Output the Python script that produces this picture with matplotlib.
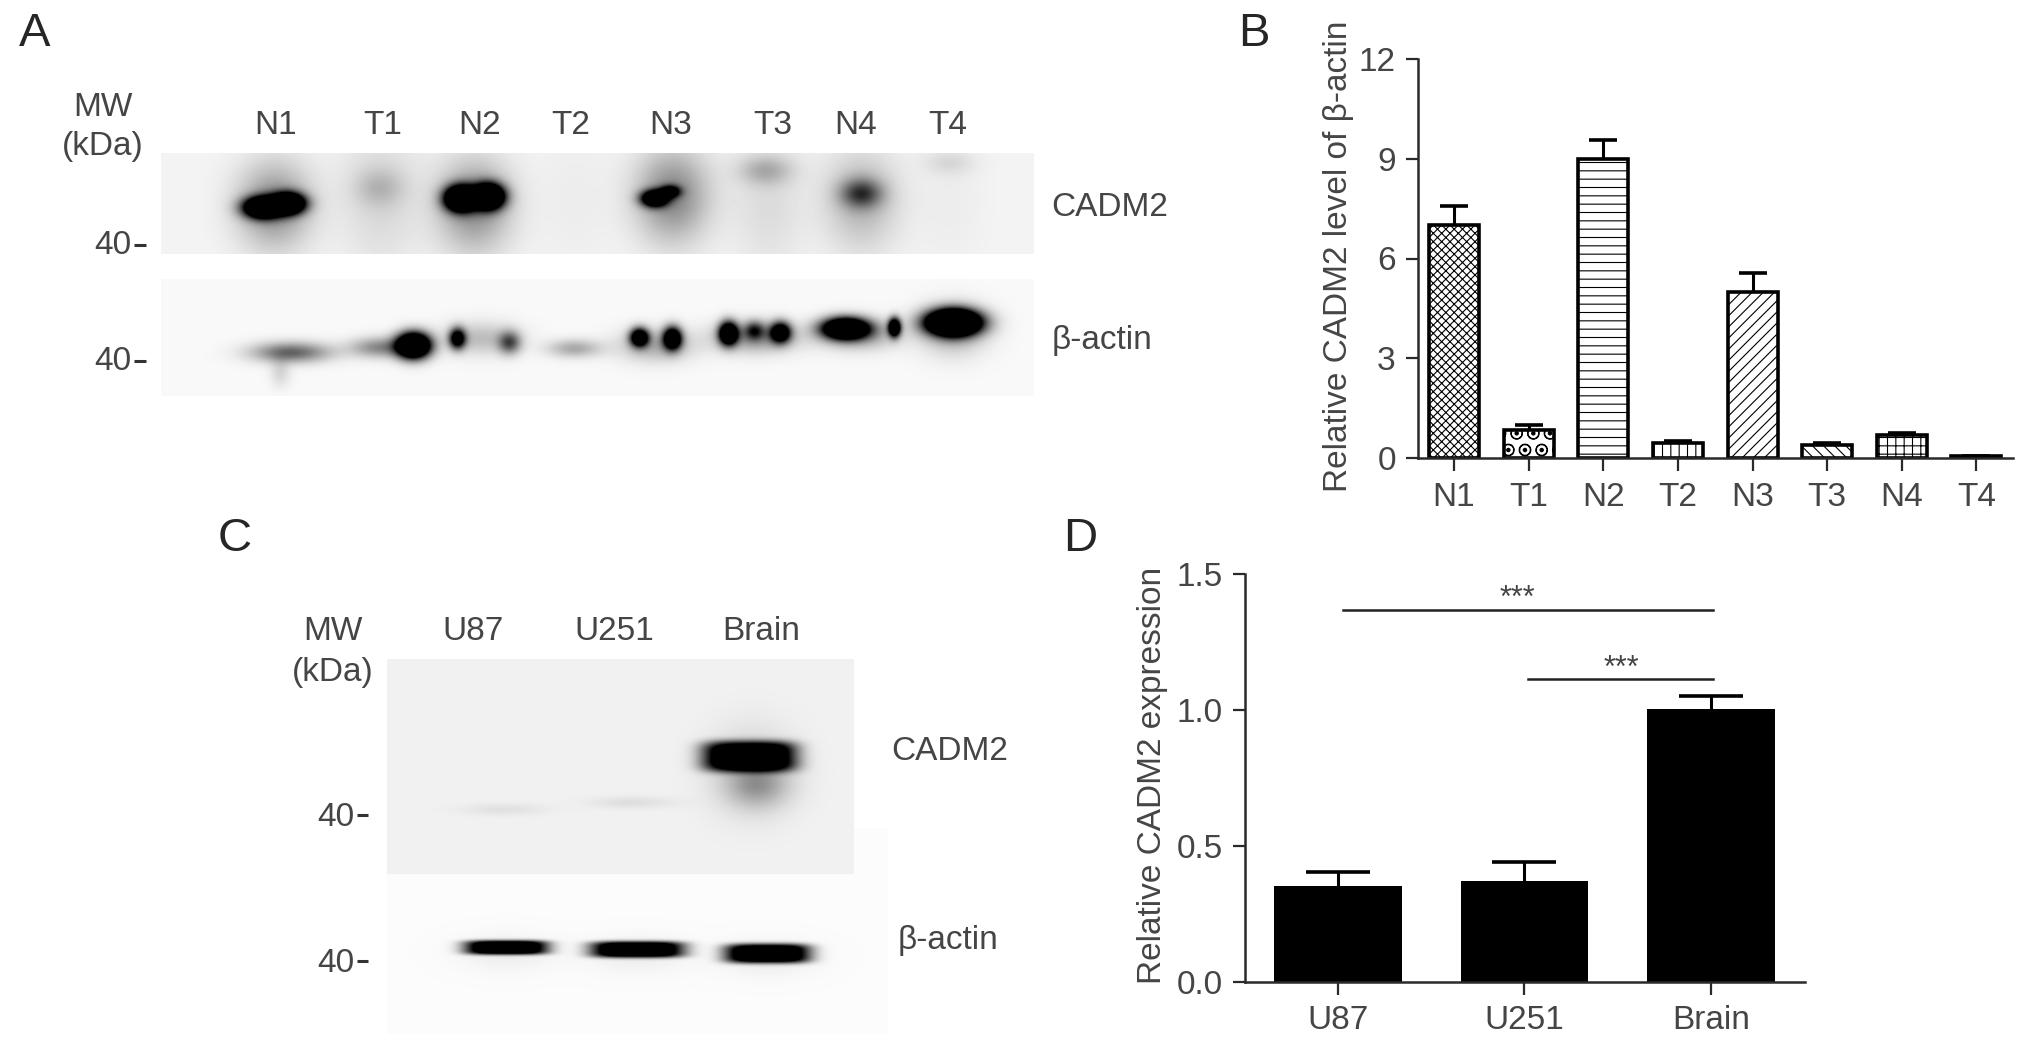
"""Western blots and CADM2 bar charts (panels A-D)."""

import matplotlib
matplotlib.use("Agg")
import matplotlib.pyplot as plt
import numpy as np

W, H = 2032, 1054
TEXT = "#454545"
FS = 24

plt.rcParams["font.family"] = ["Liberation Sans", "DejaVu Sans"]
plt.rcParams["hatch.linewidth"] = 0.8

# Panel B
tissue_labels = ["N1", "T1", "N2", "T2", "N3", "T3", "N4", "T4"]
tissue_values = [7.0, 0.85, 9.0, 0.45, 5.0, 0.4, 0.7, 0.05]
tissue_err = [0.58, 0.15, 0.56, 0.07, 0.57, 0.05, 0.05, 0.02]
tissue_hatch = ["xxxx", "O.", "--", "||", "///", "\\\\\\", "++", ""]
tissue_ticks = [0, 3, 6, 9, 12]

# Panel D
cell_labels = ["U87", "U251", "Brain"]
cell_values = [0.351, 0.37, 1.003]
cell_err = [0.05, 0.068, 0.045]
cell_ticks = [0.0, 0.5, 1.0, 1.5]

# Blot bands in figure pixels: centre x, centre y, sigma x, sigma y, density
a_top_bands = [
    (262, 207, 18, 10, 2.2), (288, 203, 16, 10, 2.2), (274, 205, 36, 42, 0.42),
    (379, 187, 24, 18, 0.16), (380, 195, 40, 70, 0.12), (460, 198, 15, 12, 2.4),
    (488, 196, 15, 12, 2.4), (474, 205, 36, 45, 0.42), (654, 198, 13, 8, 1.7),
    (670, 191, 10, 6, 1.0), (672, 195, 36, 45, 0.45), (765, 170, 26, 14, 0.24),
    (768, 200, 36, 70, 0.1), (861, 193, 20, 14, 0.6), (861, 200, 36, 48, 0.26),
    (949, 162, 24, 12, 0.1), (575, 200, 38, 70, 0.03), (949, 200, 36, 70, 0.03),
]
a_bottom_bands = [
    (291, 352, 38, 10, 0.6), (280, 372, 10, 14, 0.14), (379, 347, 28, 10, 0.45),
    (413, 345, 16, 12, 2.6), (457, 338, 8, 10, 1.3), (509, 342, 11, 11, 0.65),
    (480, 338, 36, 16, 0.24), (574, 348, 26, 9, 0.32), (639, 337, 9, 9, 1.6),
    (672, 338, 9, 11, 1.7), (655, 345, 36, 16, 0.3), (728, 333, 9, 11, 1.9),
    (754, 330, 10, 9, 0.7), (780, 332, 10, 10, 1.5), (755, 337, 40, 15, 0.4),
    (845, 328, 22, 10, 2.3), (894, 327, 6, 9, 1.8), (858, 334, 38, 15, 0.35),
    (953, 322, 25, 12, 3.2), (953, 330, 32, 24, 0.3),
]
c_top_bands = [
    (757, 784, 30, 22, 0.28), (752, 770, 42, 42, 0.16),
    (503, 809, 42, 6, 0.07), (631, 802, 42, 6, 0.08),
]
c_bottom_bands = [
    (506, 952, 46, 18, 0.06), (637, 954, 50, 18, 0.06), (767, 958, 46, 18, 0.06),
]
# Saturated rounded bands: same columns, flatter profile
c_top_cores = [(749, 756, 46, 15, 1.5)]
c_bottom_cores = [
    (506, 947, 41, 7, 1.5), (637, 949, 46, 8, 1.5), (767, 953, 42, 9.5, 1.5),
]


def pixel_axes(fig, left, top, right, bottom):
    return fig.add_axes([left / W, 1 - bottom / H, (right - left) / W, (bottom - top) / H])


def draw_blot(ax, box, bands, bg, cores=()):
    """Paint a blot as an image so that the bands saturate to black."""
    left, top, right, bottom = box
    xx, yy = np.meshgrid(np.arange(left, right), np.arange(top, bottom))
    density = np.zeros_like(xx, dtype=float)
    for cx, cy, sx, sy, amp in bands:
        density += amp * np.exp(-((xx - cx) / sx) ** 2 - ((yy - cy) / sy) ** 2)
    for cx, cy, sx, sy, amp in cores:
        density += amp * np.exp(-((xx - cx) / sx) ** 4 - ((yy - cy) / sy) ** 4)
    img = np.clip(bg * (1 - density), 0, 1)
    ax.imshow(img, cmap="gray", vmin=0, vmax=1, extent=(left, right, bottom, top),
              interpolation="bilinear", aspect="auto", zorder=1)


def style_bar_axes(ax):
    for side in ["top", "right"]:
        ax.spines[side].set_visible(False)
    for side in ["left", "bottom"]:
        ax.spines[side].set_linewidth(1.8)
        ax.spines[side].set_color("#2a2a2a")
    ax.tick_params(length=9, width=1.6, color="#2a2a2a", labelsize=FS,
                   labelcolor=TEXT, pad=8)
    ax.tick_params(axis="y", pad=7)
    ax.patch.set_alpha(0)


fig = plt.figure(figsize=(W / 100, H / 100), dpi=100, facecolor="white")

# Full-figure canvas in pixel coordinates for the blots and their labels
canvas = fig.add_axes([0, 0, 1, 1])
canvas.set_xlim(0, W)
canvas.set_ylim(H, 0)
canvas.axis("off")

draw_blot(canvas, (161, 153, 1034, 254), a_top_bands, 0.955)
draw_blot(canvas, (161, 279, 1034, 396), a_bottom_bands, 0.975)
draw_blot(canvas, (387, 828, 888, 1034), c_bottom_bands, 0.985, c_bottom_cores)
draw_blot(canvas, (387, 659, 854, 874), c_top_bands, 0.945, c_top_cores)
canvas.set_xlim(0, W)
canvas.set_ylim(H, 0)


def label(x, y, s, size=FS, ha="center", color=TEXT):
    canvas.text(x, y, s, fontsize=size, ha=ha, va="center", color=color, zorder=3)


for x, y, s in [(35, 34, "A"), (1254, 34, "B"), (235, 539, "C"), (1080, 539, "D")]:
    label(x, y, s, size=34, color="#262626")

lane_x_a = [276, 383, 480, 571, 671, 773, 856, 948]
for x, s in zip(lane_x_a, tissue_labels):
    label(x, 125, s)
label(103, 107, "MW")
label(103, 146, "(kDa)")
label(131, 245, "40", ha="right")
label(131, 361, "40", ha="right")
label(1110, 208, "CADM2")
label(1102, 340, "β-actin")

lane_x_c = [473, 614, 761]
for x, s in zip(lane_x_c, cell_labels):
    label(x, 632, s)
label(333, 632, "MW")
label(333, 673, "(kDa)")
label(354, 817, "40", ha="right")
label(354, 963, "40", ha="right")
label(950, 751, "CADM2")
label(948, 940, "β-actin")

# Little dashes after the "40" markers
for x0, x1, y in [(134, 146, 245), (134, 146, 361), (357, 368, 815), (357, 368, 961)]:
    canvas.plot([x0, x1], [y, y], color="#333333", lw=2.2, solid_capstyle="butt", zorder=3)

# Panel B
ax_b = pixel_axes(fig, 1418, 59, 2013, 458)
x_b = np.arange(len(tissue_labels))
ax_b.bar(x_b, tissue_values, width=0.67, facecolor="white", edgecolor="black",
         linewidth=2.6, hatch=tissue_hatch)
_, caps, _ = ax_b.errorbar(x_b, tissue_values, yerr=[np.zeros(len(tissue_err)), tissue_err],
                           fmt="none", ecolor="black", elinewidth=2.2, capsize=10, capthick=2.6)
caps[0].set_visible(False)
ax_b.set_xlim(-0.483, 7.49)
ax_b.set_ylim(0, 12)
ax_b.set_xticks(x_b, tissue_labels)
ax_b.set_yticks(tissue_ticks)
style_bar_axes(ax_b)
fig.text(1338 / W, 1 - 256 / H, "Relative CADM2 level of β-actin", rotation=90, fontsize=FS,
         color=TEXT, ha="center", va="center")

# Panel D
ax_d = pixel_axes(fig, 1245, 573.5, 1805, 981.5)
x_d = np.arange(len(cell_labels))
ax_d.bar(x_d, cell_values, width=0.684, color="black")
_, caps, _ = ax_d.errorbar(x_d, cell_values, yerr=[np.zeros(len(cell_err)), cell_err],
                           fmt="none", ecolor="black", elinewidth=2.2, capsize=23, capthick=2.6)
caps[0].set_visible(False)
ax_d.set_xlim(-0.498, 2.505)
ax_d.set_ylim(0, 1.5)
ax_d.set_xticks(x_d, cell_labels)
ax_d.set_yticks(cell_ticks, [f"{t:.1f}" for t in cell_ticks])
style_bar_axes(ax_d)
fig.text(1152 / W, 1 - 775 / H, "Relative CADM2 expression", rotation=90, fontsize=FS,
         color=TEXT, ha="center", va="center")

# Significance bars
ax_d.plot([0.03, 2.01], [1.365, 1.365], color="#222222", lw=1.8, clip_on=False)
ax_d.plot([1.02, 2.01], [1.112, 1.112], color="#222222", lw=1.8, clip_on=False)
ax_d.text(0.96, 1.405, "***", fontsize=22, ha="center", va="center", color=TEXT)
ax_d.text(1.52, 1.15, "***", fontsize=22, ha="center", va="center", color=TEXT)

fig.savefig("out.png", dpi=100)
